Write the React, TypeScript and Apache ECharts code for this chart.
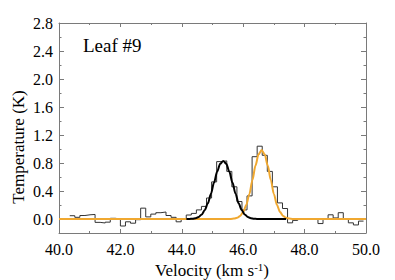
import React, { useEffect, useRef } from "react";
import * as echarts from "echarts";

// ---- data ----
const channelStart = 40.35; // km/s, left edge of first channel
const channelWidth = 0.165; // km/s
const temperatures = [
  0.047, 0.024, 0.05, 0.06, 0.065, -0.048, -0.057, -0.045, 0.01, 0.0,
  -0.1, -0.04, -0.06, -0.01, 0.155, 0.03, 0.07, 0.09, 0.1, 0.05,
  0.024, -0.04, 0.005, 0.057, 0.08, 0.13, 0.18, 0.3, 0.53, 0.82,
  0.83, 0.68, 0.46, 0.25, 0.13, 0.33, 0.89, 1.04, 0.91, 0.68,
  0.46, 0.23, 0.15, -0.055, -0.02, 0.0, 0.0, 0.0, -0.005, -0.065,
  0.0, 0.06, 0.015, 0.09, 0.0, -0.055, -0.085, -0.03,
];

const fit1Velocity = [
  44.15, 44.25, 44.35, 44.45, 44.55, 44.65, 44.75, 44.85, 44.95, 45.05,
  45.15, 45.25, 45.35, 45.45, 45.55, 45.65, 45.75, 45.85, 45.95, 46.05,
  46.15, 46.25, 46.35, 46.45, 46.55, 47.4,
];
const fit1Temperature = [
  0.0, 0.0015, 0.0046, 0.0123, 0.0297, 0.065, 0.128, 0.226, 0.361, 0.52,
  0.674, 0.788, 0.83, 0.788, 0.674, 0.52, 0.361, 0.226, 0.128, 0.065,
  0.0297, 0.0123, 0.0046, 0.0015, 0.0005, 0.0,
];

const fit2Velocity = [
  40.0, 45.4, 45.6, 45.7, 45.8, 45.9, 46.0, 46.1, 46.2, 46.3,
  46.4, 46.5, 46.6, 46.7, 46.8, 46.9, 47.0, 47.1, 47.2, 47.3,
  47.4, 47.5, 47.6, 47.8, 50.0,
];
const fit2Temperature = [
  0.0, 0.0, 0.0017, 0.0056, 0.0166, 0.043, 0.099, 0.2, 0.355, 0.555,
  0.763, 0.924, 0.985, 0.924, 0.763, 0.555, 0.355, 0.2, 0.099, 0.043,
  0.0166, 0.0056, 0.0017, 0.0, 0.0,
];

const labelText = "Leaf #9";
const xTitle = "Velocity (km s";
const yTitle = "Temperature (K)";

const FONT = "Times New Roman, Liberation Serif, DejaVu Serif, serif";
const AXIS_GRAY = "#7a7a7a";

export default function App() {
  const ref = useRef<HTMLDivElement>(null);

  useEffect(() => {
    if (!ref.current) return;
    const chart = echarts.init(ref.current, null, { renderer: "svg" });

    const histData: number[][] = temperatures.map((t, i) => [
      channelStart + i * channelWidth,
      t,
    ]);
    histData.push([
      channelStart + temperatures.length * channelWidth,
      temperatures[temperatures.length - 1],
    ]);
    const fit1 = fit1Velocity.map((v, i) => [v, fit1Temperature[i]]);
    const fit2 = fit2Velocity.map((v, i) => [v, fit2Temperature[i]]);

    const xBase = {
      type: "value" as const,
      min: 40,
      max: 50,
      interval: 2,
      splitLine: { show: false },
      axisLine: { show: true, onZero: false, lineStyle: { color: AXIS_GRAY, width: 1 } },
      axisTick: { show: true, inside: true, length: 4, lineStyle: { color: AXIS_GRAY } },
      minorTick: { show: true, splitNumber: 2, length: 2, lineStyle: { color: AXIS_GRAY } },
    };

    const yFrame = {
      type: "value" as const,
      gridIndex: 0,
      min: -0.2,
      max: 2.8,
      splitLine: { show: false },
      axisLine: { show: true, onZero: false, lineStyle: { color: AXIS_GRAY, width: 1 } },
      axisTick: { show: false },
      axisLabel: { show: false },
    };

    const yTicks = {
      type: "value" as const,
      gridIndex: 1,
      min: 0,
      max: 2.8,
      interval: 0.4,
      splitLine: { show: false },
      axisLine: { show: false, onZero: false },
      axisTick: { show: true, inside: true, length: 5, lineStyle: { color: AXIS_GRAY } },
      minorTick: { show: true, splitNumber: 2, length: 2.5, lineStyle: { color: AXIS_GRAY } },
    };

    chart.setOption({
      animation: false,
      backgroundColor: "#ffffff",
      textStyle: { fontFamily: FONT },
      grid: [
        { left: 59, top: 23, width: 307, height: 210 },
        { left: 59, top: 23, width: 307, height: 196 },
      ],
      xAxis: [
        {
          ...xBase,
          gridIndex: 0,
          position: "bottom",
          axisLabel: {
            show: true,
            formatter: (v: number) => v.toFixed(1),
            color: "#000",
            fontFamily: FONT,
            fontSize: 16,
            margin: 8,
          },
        },
        { ...xBase, gridIndex: 0, position: "top", axisLabel: { show: false } },
        { type: "value", gridIndex: 1, min: 40, max: 50, show: false },
      ],
      yAxis: [
        { ...yFrame, position: "left" },
        { ...yFrame, position: "right" },
        {
          ...yTicks,
          position: "left",
          axisLabel: {
            show: true,
            formatter: (v: number) => v.toFixed(1),
            color: "#000",
            fontFamily: FONT,
            fontSize: 16,
            margin: 6,
          },
        },
        { ...yTicks, position: "right", axisLabel: { show: false } },
      ],
      series: [
        {
          type: "line",
          xAxisIndex: 0,
          yAxisIndex: 0,
          data: histData,
          step: "end",
          symbol: "none",
          lineStyle: { color: "#333333", width: 1 },
          z: 2,
        },
        {
          type: "line",
          xAxisIndex: 0,
          yAxisIndex: 0,
          data: fit2,
          smooth: 0.3,
          smoothMonotone: "x",
          symbol: "none",
          lineStyle: { color: "#f0a830", width: 2 },
          z: 3,
        },
        {
          type: "line",
          xAxisIndex: 0,
          yAxisIndex: 0,
          data: fit1,
          smooth: 0.3,
          smoothMonotone: "x",
          symbol: "none",
          lineStyle: { color: "#000000", width: 2 },
          z: 4,
        },
      ],
      graphic: [
        {
          type: "text",
          x: 83,
          y: 45,
          style: {
            text: labelText,
            fontFamily: FONT,
            fontSize: 19,
            fill: "#000",
            align: "left",
            verticalAlign: "middle",
          },
        },
        {
          type: "text",
          x: 18,
          y: 147,
          rotation: Math.PI / 2,
          style: {
            text: yTitle,
            fontFamily: FONT,
            fontSize: 17,
            fill: "#000",
            align: "center",
            verticalAlign: "middle",
          },
        },
        {
          type: "text",
          x: 212,
          y: 270,
          style: {
            text: "{a|" + xTitle + "}{b|-1}{a|)}",
            fill: "#000",
            fontFamily: FONT,
            align: "center",
            verticalAlign: "middle",
            rich: {
              a: { fontFamily: FONT, fontSize: 17, fill: "#000", lineHeight: 18 },
              b: {
                fontFamily: FONT,
                fontSize: 11,
                fill: "#000",
                lineHeight: 18,
                verticalAlign: "top",
              },
            },
          },
        },
      ],
    });

    return () => chart.dispose();
  }, []);

  return (
    <div
      ref={ref}
      style={{ position: "fixed", left: 0, top: 0, width: 395, height: 280 }}
    />
  );
}
